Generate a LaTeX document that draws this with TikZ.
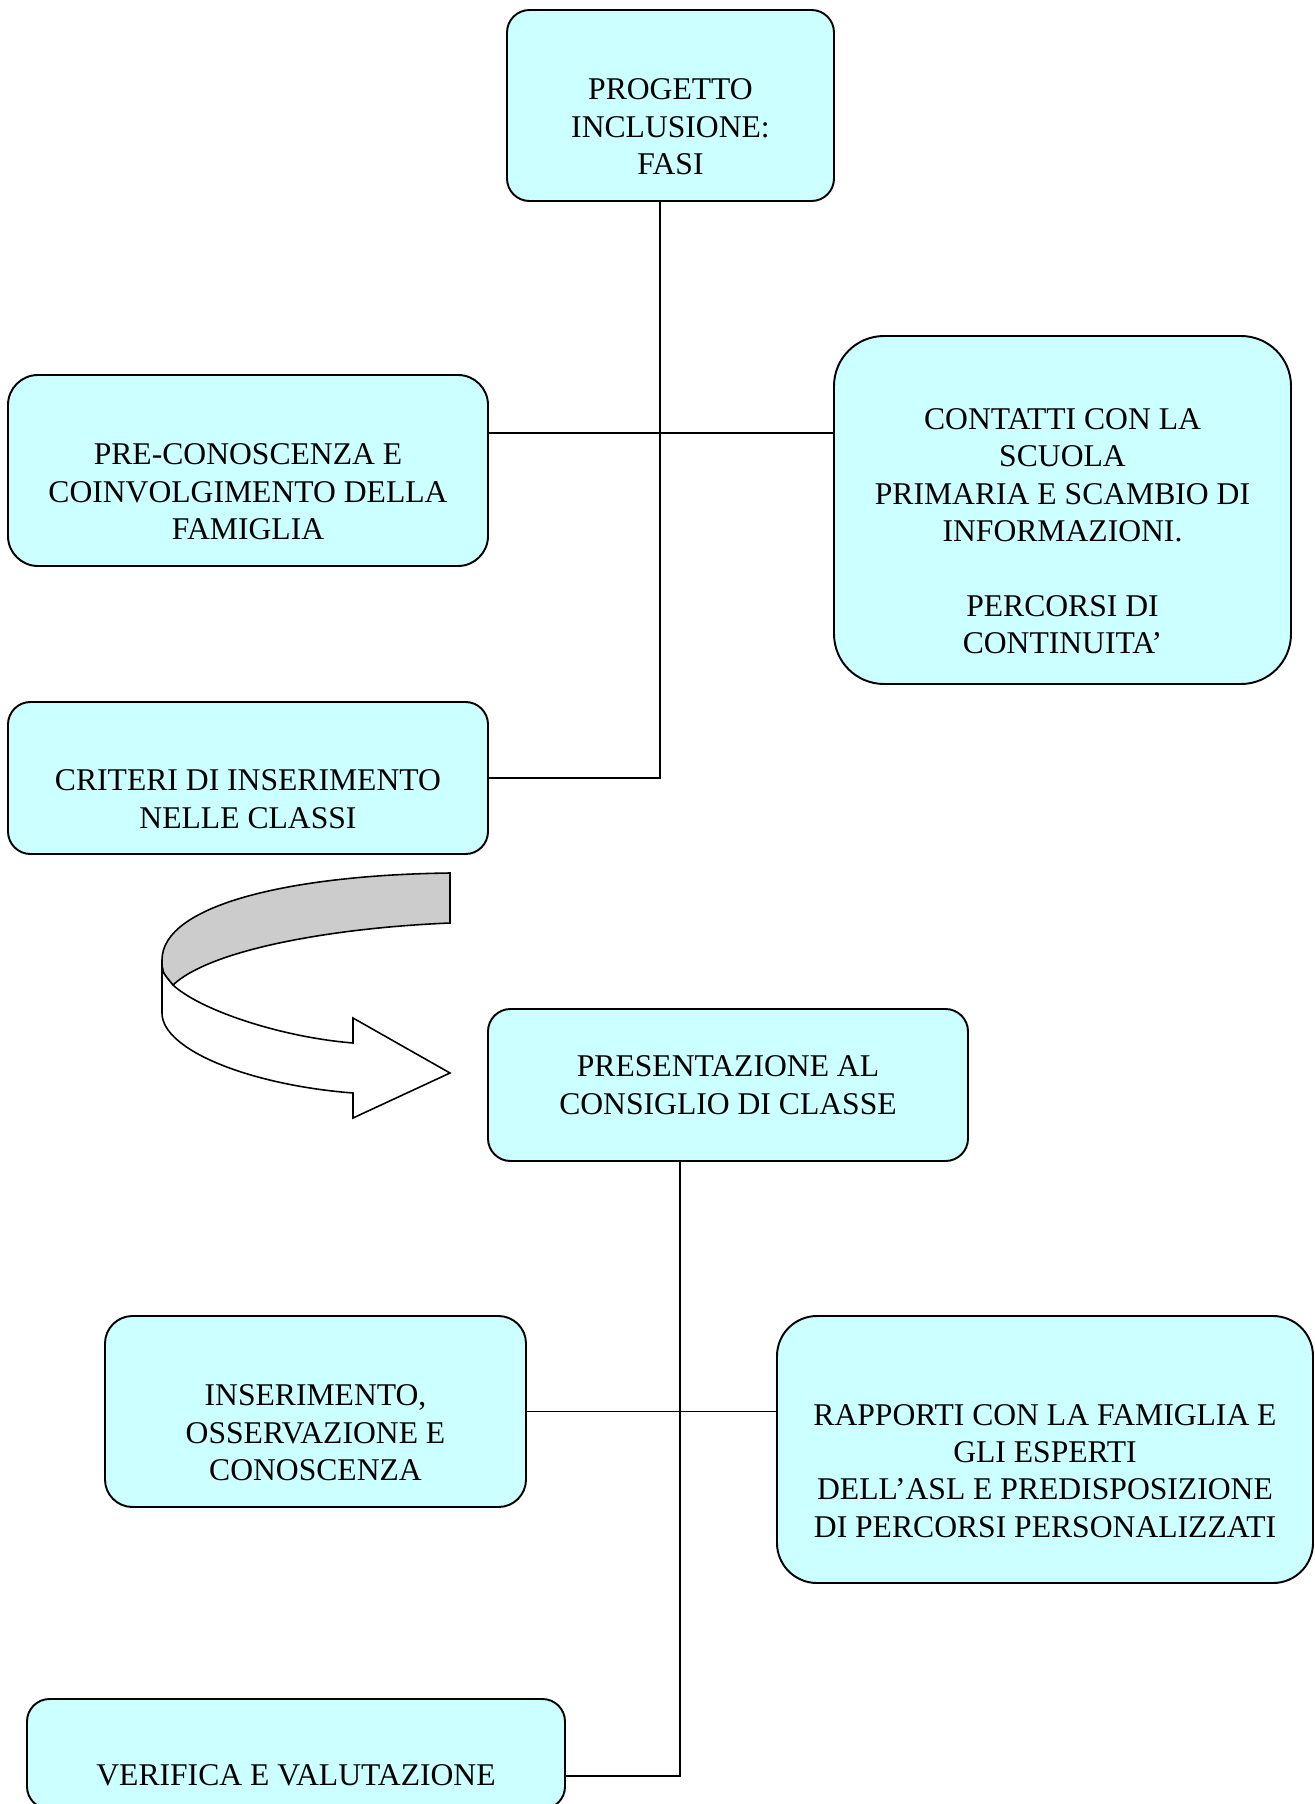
\documentclass[tikz,border=0pt]{standalone}
\usepackage{fontspec}
\setmainfont{Liberation Serif}
\definecolor{phasefill}{HTML}{CCFFFF}
\definecolor{ribbongray}{HTML}{CCCCCC}

\begin{document}
\begin{tikzpicture}[
    phase/.style={draw, line width=1.1pt, fill=phasefill, align=center,
      inner sep=0pt, font=\fontsize{18}{21.3}\selectfont},
    link/.style={line width=1.1pt}
  ]

    % --- Page frame ---
    % 1315 x 1804 px, one px = 0.02 cm, y grows downwards
    \useasboundingbox (0,0) rectangle (26.3,-36.08);

    % --- First group of phases ---
    \node[phase, minimum width=6.54cm, minimum height=3.82cm, rounded corners=0.45cm]
      (prog) at (13.41,-2.11) {\strut\\PROGETTO\\INCLUSIONE:\\FASI};
    \node[phase, minimum width=9.6cm, minimum height=3.82cm, rounded corners=0.6cm]
      (pre) at (4.96,-9.41) {\strut\\PRE-CONOSCENZA E\\COINVOLGIMENTO DELLA\\FAMIGLIA};
    \node[phase, minimum width=9.14cm, minimum height=6.96cm, rounded corners=1cm]
      (cont) at (21.25,-10.2) {\strut\\CONTATTI CON LA\\SCUOLA\\PRIMARIA E SCAMBIO DI\\INFORMAZIONI.\\\strut\\PERCORSI DI\\CONTINUITA’};
    \node[phase, minimum width=9.6cm, minimum height=3.04cm, rounded corners=0.45cm]
      (crit) at (4.96,-15.56) {\strut\\CRITERI DI INSERIMENTO\\NELLE CLASSI};

    % --- Connectors of the first group ---
    \coordinate (j1) at (13.2,-15.56);
    \coordinate (h1) at (13.2,-8.66);
    \draw[link] (prog.south -| j1) -- (j1) -- (crit.east);
    \draw[link] (pre.east |- h1) -- (cont.west |- h1);

    % --- Curved ribbon arrow ---
    % Grey inner face of the ribbon
    \draw[line width=0.9pt, fill=ribbongray] (9,-17.46)
      .. controls (5.8,-17.5) and (3.24,-18.1) .. (3.24,-19.2)
      .. controls (3.24,-19.44) .. (3.46,-19.7)
      .. controls (4.2,-19) and (6.6,-18.56) .. (9,-18.46) -- cycle;
    % White front face with the arrow head
    \draw[line width=0.9pt, fill=white] (3.24,-19.2)
      .. controls (3.24,-19.44) .. (3.46,-19.7)
      .. controls (4,-20.2) and (5.6,-20.74) .. (7.06,-20.86)
      -- (7.06,-20.36) -- (9,-21.46) -- (7.06,-22.36) -- (7.06,-21.86)
      .. controls (5,-21.7) and (3.24,-21) .. (3.24,-20.26) -- cycle;

    % --- Second group of phases ---
    \node[phase, minimum width=9.6cm, minimum height=3.04cm, rounded corners=0.45cm]
      (pres) at (14.56,-21.7) {PRESENTAZIONE AL\\CONSIGLIO DI CLASSE};
    \node[phase, minimum width=8.42cm, minimum height=3.82cm, rounded corners=0.55cm]
      (ins) at (6.31,-28.23) {\strut\\INSERIMENTO,\\OSSERVAZIONE E\\CONOSCENZA};
    \node[phase, minimum width=10.72cm, minimum height=5.34cm, rounded corners=0.8cm]
      (rap) at (20.9,-28.99) {\strut\\RAPPORTI CON LA FAMIGLIA E\\GLI ESPERTI\\DELL’ASL E PREDISPOSIZIONE\\DI PERCORSI PERSONALIZZATI};
    \node[phase, minimum width=10.76cm, minimum height=2.2cm, rounded corners=0.45cm]
      (ver) at (5.92,-35.08) {\strut\\VERIFICA E VALUTAZIONE};

    % --- Connectors of the second group ---
    \coordinate (j2) at (13.6,-35.52);
    \draw[link] (pres.south -| j2) -- (j2) -- (ver.east |- j2);
    \draw[link] (ins.east) -- (rap.west |- ins.east);

\end{tikzpicture}
\end{document}
